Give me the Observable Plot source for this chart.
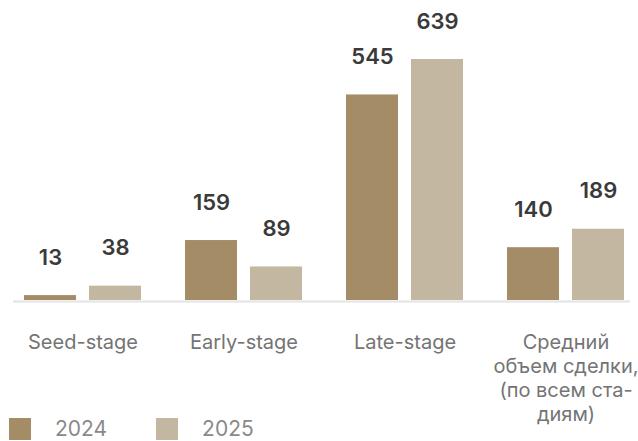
<!DOCTYPE html>
<html>
<head>
<meta charset="utf-8">
<script src="https://cdn.jsdelivr.net/npm/d3@7"></script>
<script src="https://cdn.jsdelivr.net/npm/@observablehq/plot@0.6"></script>
<style>
  html, body { margin: 0; padding: 0; background: #fff; }
  #wrap { position: relative; width: 638px; height: 441px; overflow: hidden; font-family: Inter, sans-serif; }
  #legend { position: absolute; left: 9px; top: 418px; display: flex; align-items: center; }
  .item { display: flex; align-items: center; margin-right: 49px; }
  .sw { width: 22px; height: 22px; margin-right: 24px; }
  .lab { font-size: 21px; color: #8a8a8a; line-height: 22px; }
</style>
</head>
<body>
<div id="wrap"></div>
<script>
const categories = ["Seed-stage", "Early-stage", "Late-stage", "Средний\nобъем сделки,\n(по всем ста-\nдиям)"];
const years = ["2024", "2025"];
const values2024 = [13, 159, 545, 140];
const values2025 = [38, 89, 639, 189];
const colors = ["#a48c67", "#c3b7a2"];

const d2024 = categories.map((c, i) => ({cat: c, value: values2024[i]}));
const d2025 = categories.map((c, i) => ({cat: c, value: values2025[i]}));

const plot = Plot.plot({
  width: 638,
  height: 441,
  marginLeft: 22,
  marginRight: 12,
  marginTop: 59,
  marginBottom: 141,
  style: {fontFamily: "Inter, sans-serif", background: "#fff"},
  x: {domain: categories, paddingInner: 0.2716, paddingOuter: 0, axis: null},
  y: {domain: [0, 639], axis: null},
  marks: [
    Plot.barY(d2024, {x: "cat", y: "value", fill: colors[0], insetRight: 65}),
    Plot.barY(d2025, {x: "cat", y: "value", fill: colors[1], insetLeft: 65}),
    Plot.ruleY([0], {stroke: "#e3e3e3", strokeWidth: 2, dy: 1, insetLeft: -9, insetRight: -4}),
    Plot.text(d2024, {x: "cat", y: "value", text: d => String(d.value), dx: -32.5, dy: -38, lineAnchor: "middle", fontSize: 22, fontWeight: 600, fill: "#3a3a3a"}),
    Plot.text(d2025, {x: "cat", y: "value", text: d => String(d.value), dx: 32.5, dy: -38, lineAnchor: "middle", fontSize: 22, fontWeight: 600, fill: "#3a3a3a"}),
    Plot.text(categories, {x: d => d, y: 0, text: d => d, lineAnchor: "top", dy: 31, fontSize: 20, lineHeight: 1.2, fill: "#747474"})
  ]
});
document.getElementById("wrap").appendChild(plot);

const legend = document.createElement("div");
legend.id = "legend";
years.forEach((y, i) => {
  const item = document.createElement("div");
  item.className = "item";
  const sw = document.createElement("div");
  sw.className = "sw";
  sw.style.background = colors[i];
  const lab = document.createElement("span");
  lab.className = "lab";
  lab.textContent = y;
  item.appendChild(sw);
  item.appendChild(lab);
  legend.appendChild(item);
});
document.getElementById("wrap").appendChild(legend);
</script>
</body>
</html>
